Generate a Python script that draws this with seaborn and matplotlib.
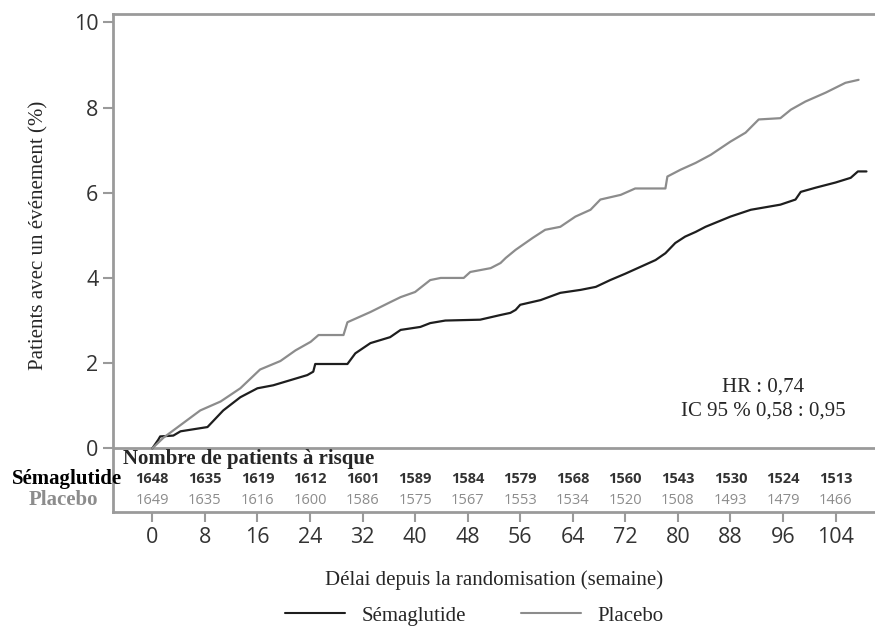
import matplotlib
matplotlib.use("Agg")
import matplotlib.pyplot as plt
from matplotlib.lines import Line2D
import seaborn as sns
import pandas as pd

# courbes (semaine, % patients avec un evenement)
sema_weeks = [0, 0.9, 1.2, 3.2, 4.3, 8.4, 10.8, 13.4, 16.0, 18.4, 21.0, 23.6, 24.5, 24.8,
              29.7, 30.9, 33.2, 36.2, 37.8, 40.8, 42.3, 44.6, 49.9, 53.0, 54.5, 55.3, 56.0,
              59.1, 62.1, 65.2, 67.5, 69.7, 72.0, 74.3, 76.6, 78.1, 79.6, 81.1, 82.7, 84.2,
              88.0, 91.1, 95.6, 97.9, 98.7, 101.0, 104.0, 106.3, 107.4, 108.7]
sema_pct = [0, 0.2, 0.28, 0.3, 0.4, 0.5, 0.89, 1.2, 1.41, 1.48, 1.6, 1.72, 1.8, 1.98,
            1.98, 2.23, 2.47, 2.61, 2.78, 2.85, 2.94, 3.0, 3.02, 3.13, 3.18, 3.25, 3.37,
            3.48, 3.65, 3.72, 3.79, 3.95, 4.1, 4.26, 4.42, 4.58, 4.82, 4.97, 5.08, 5.2,
            5.44, 5.6, 5.72, 5.84, 6.02, 6.12, 6.24, 6.35, 6.5, 6.5]

plac_weeks = [0, 1.7, 7.3, 10.4, 13.4, 16.4, 19.5, 21.8, 24.1, 25.3, 29.1, 29.7, 33.2,
              36.2, 37.8, 40.0, 42.3, 43.9, 47.4, 48.4, 51.5, 53.0, 53.8, 55.3, 57.9, 59.8,
              62.1, 64.4, 66.7, 68.2, 71.3, 73.5, 78.1, 78.4, 80.4, 82.7, 85.0, 88.0, 90.3,
              92.3, 95.6, 97.2, 99.4, 102.5, 105.5, 107.5]
plac_pct = [0, 0.25, 0.89, 1.1, 1.41, 1.85, 2.05, 2.3, 2.5, 2.66, 2.66, 2.96, 3.2,
            3.43, 3.55, 3.67, 3.95, 4.0, 4.0, 4.14, 4.23, 4.35, 4.47, 4.66, 4.94, 5.13,
            5.2, 5.44, 5.6, 5.84, 5.95, 6.1, 6.1, 6.38, 6.54, 6.7, 6.89, 7.2, 7.41,
            7.72, 7.75, 7.95, 8.14, 8.35, 8.58, 8.65]

risk_weeks = list(range(0, 105, 8))
risk_sema = [1648, 1635, 1619, 1612, 1601, 1589, 1584, 1579, 1568, 1560, 1543, 1530, 1524, 1513]
risk_plac = [1649, 1635, 1616, 1600, 1586, 1575, 1567, 1553, 1534, 1520, 1508, 1493, 1479, 1466]

dark = "#1e1e1e"
grey = "#8c8c8c"
spine = "#9a9a9a"

df = pd.concat([
    pd.DataFrame({"semaine": sema_weeks, "pct": sema_pct, "groupe": "Sémaglutide"}),
    pd.DataFrame({"semaine": plac_weeks, "pct": plac_pct, "groupe": "Placebo"}),
])

sns.set_style("white")
plt.rcParams["font.family"] = ["Liberation Serif", "DejaVu Serif"]

fig = plt.figure(figsize=(8.75, 6.27), dpi=100)
ax = fig.add_axes([0.129, 0.183, 0.871, 0.795])

sns.lineplot(data=df, x="semaine", y="pct", hue="groupe",
             palette={"Sémaglutide": dark, "Placebo": grey},
             estimator=None, sort=False, linewidth=1.6, legend=False, ax=ax)

ax.set_xlim(-6, 110)
ax.set_ylim(-1.5, 10.2)
ax.axhline(0, color=spine, lw=2, zorder=1)

for s in ["left", "top", "bottom"]:
    ax.spines[s].set_color(spine)
    ax.spines[s].set_linewidth(2)
ax.spines["right"].set_visible(False)

ax.set_xticks(risk_weeks)
ax.set_yticks([0, 2, 4, 6, 8, 10])
ax.tick_params(axis="both", which="both", direction="out", color=spine, width=1.5,
               length=7, labelsize=15.5, labelcolor="#333333", left=True, bottom=True)
for lab in ax.get_xticklabels() + ax.get_yticklabels():
    lab.set_fontfamily("Open Sans")

ax.set_xlabel("Délai depuis la randomisation (semaine)", fontsize=15, labelpad=16)
ax.set_ylabel("Patients avec un événement (%)", fontsize=15)
ax.yaxis.set_label_coords(-0.085, 0.556)

# tableau des patients a risque
ax.text(-4.4, -0.26, "Nombre de patients à risque", fontsize=15, fontweight="bold",
        ha="left", va="center")
ax.text(-13.0, -0.71, "Sémaglutide", fontsize=15, fontweight="bold", color="black",
        ha="center", va="center", clip_on=False)
ax.text(-13.6, -1.22, "Placebo", fontsize=15, fontweight="bold", color=grey,
        ha="center", va="center", clip_on=False)
for w, a, b in zip(risk_weeks, risk_sema, risk_plac):
    ax.text(w, -0.71, str(a), fontsize=10.5, fontweight="bold", color="#333333",
            ha="center", va="center", family="Open Sans")
    ax.text(w, -1.22, str(b), fontsize=10.5, color=grey,
            ha="center", va="center", family="Open Sans")

ax.text(93, 1.45, "HR : 0,74", fontsize=15, ha="center", va="center")
ax.text(93, 0.87, "IC 95 % 0,58 : 0,95", fontsize=15, ha="center", va="center")

handles = [Line2D([], [], color=dark, lw=1.5), Line2D([], [], color=grey, lw=1.5)]
fig.legend(handles, ["Sémaglutide", "Placebo"], loc="center", ncol=2,
           bbox_to_anchor=(0.542, 0.018), frameon=False, fontsize=15,
           handlelength=2.9, handletextpad=0.8, columnspacing=2.6, borderpad=0)

fig.savefig("out.png", dpi=100)
